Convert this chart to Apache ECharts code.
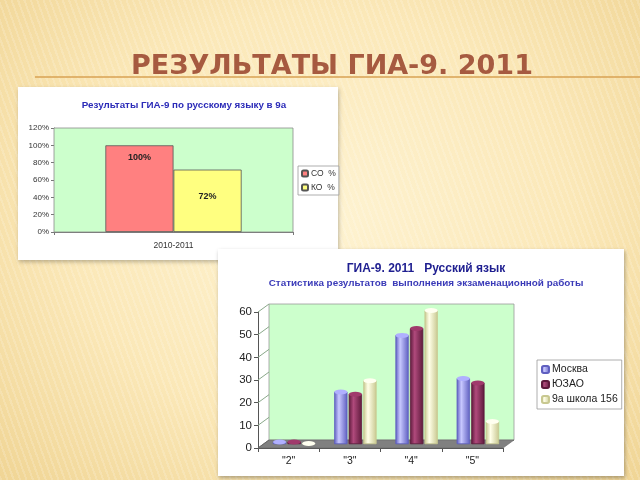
<!DOCTYPE html>
<html>
<head>
<meta charset="utf-8">
<script src="https://cdn.jsdelivr.net/npm/echarts@6/dist/echarts.min.js"></script>
<style>
html, body { margin: 0; padding: 0; }
#main {
    width: 640px; height: 480px;
    background:
        repeating-linear-gradient(70deg, rgba(255,255,255,0.16) 0 2px, rgba(0,0,0,0) 2px 6px),
        radial-gradient(ellipse at 50% 45%, #fef3d2 0%, #fbe8b8 55%, #f0d595 100%);
}
</style>
</head>
<body>
<div id="main"></div>
<script>
// chart 1 - 9a class, results
var yearCats = ['2010-2011'];
var soValues = [100];
var koValues = [72];

// chart 2 - grade distribution
var gradeCats = ['"2"', '"3"', '"4"', '"5"'];
var moscowValues = [1, 23, 48, 29];
var uzaoValues = [1, 22, 51, 27];
var schoolValues = [0.3, 28, 59, 10];

var FONT = 'Liberation Sans, Arial, sans-serif';

// front axis grid of the 3d chart, wall is shifted back by DX, DY
var G2 = { left: 258, top: 312, width: 245, height: 136 };
var DX = 11, DY = -8;

function cyl(dark, light) {
    return new echarts.graphic.LinearGradient(0, 0, 1, 0, [
        { offset: 0, color: dark },
        { offset: 0.35, color: light },
        { offset: 1, color: dark }
    ]);
}

function barSeries(name, data, dark, light) {
    return {
        name: name,
        type: 'bar',
        xAxisIndex: 2, yAxisIndex: 2,
        barWidth: 13, barGap: '12%',
        z: 4,
        itemStyle: { color: cyl(dark, light), borderColor: dark, borderWidth: 0.5 },
        data: data
    };
}

function capSeries(name, data, color, border) {
    return {
        name: name,
        type: 'pictorialBar',
        xAxisIndex: 2, yAxisIndex: 2,
        barWidth: 13, barGap: '12%',
        symbol: 'circle',
        symbolSize: [13, 5],
        symbolPosition: 'end',
        symbolOffset: [0, '-50%'],
        z: 5,
        itemStyle: { color: color, borderColor: border, borderWidth: 0.6 },
        data: data
    };
}

var chart = echarts.init(document.getElementById('main'));

var option = {
    backgroundColor: 'transparent',
    animation: false,
    textStyle: { fontFamily: FONT },
    title: [
        {
            text: 'РЕЗУЛЬТАТЫ ГИА-9. 2011',
            left: 327, top: 48, textAlign: 'center',
            textStyle: { color: '#a65a40', fontSize: 27, fontWeight: 'bold', fontFamily: 'DejaVu Sans, sans-serif' }
        },
        {
            text: 'Результаты ГИА-9 по русскому языку в 9а',
            left: 179, top: 95, textAlign: 'center',
            textStyle: { color: '#2b2bb8', fontSize: 9.8, fontWeight: 'bold', fontFamily: FONT }
        },
        {
            text: 'ГИА-9. 2011   Русский язык',
            left: 421, top: 258, textAlign: 'center',
            textStyle: { color: '#1e1e90', fontSize: 12, fontWeight: 'bold', fontFamily: FONT }
        },
        {
            text: 'Статистика результатов  выполнения экзаменационной работы',
            left: 421, top: 273, textAlign: 'center',
            textStyle: { color: '#3a3ab8', fontSize: 9.9, fontWeight: 'bold', fontFamily: FONT }
        }
    ],
    legend: [
        {
            data: ['СО  %', 'КО  %'],
            orient: 'vertical',
            left: 298, top: 166,
            itemWidth: 6, itemHeight: 6, itemGap: 5,
            padding: [3, 3, 3, 3],
            backgroundColor: '#fff',
            borderColor: '#999', borderWidth: 0.8,
            textStyle: { fontSize: 8.5, color: '#333', padding: [0, 0, 0, -2] }
        },
        {
            data: ['Москва', 'ЮЗАО', '9а школа 156'],
            orient: 'vertical',
            left: 537, top: 360,
            itemWidth: 7, itemHeight: 7, itemGap: 4,
            padding: [4, 4, 4, 4],
            backgroundColor: '#fff',
            borderColor: '#999', borderWidth: 0.8,
            textStyle: { fontSize: 10.5, color: '#222', padding: [0, 0, 0, -2] }
        }
    ],
    grid: [
        // chart 1
        { left: 54, top: 128, width: 239, height: 104, show: true,
          backgroundColor: '#ccffcc', borderColor: '#8a8a8a', borderWidth: 0.8, z: 1 },
        // chart 2 back wall
        { left: G2.left + DX, top: G2.top + DY, width: G2.width, height: G2.height, show: true,
          backgroundColor: '#ccffcc', borderColor: '#999', borderWidth: 0.8, z: 1 },
        // chart 2 bars, half depth
        { left: G2.left + DX / 2, top: G2.top + DY / 2, width: G2.width, height: G2.height, z: 3 },
        // chart 2 front axes
        { left: G2.left, top: G2.top, width: G2.width, height: G2.height, z: 3 }
    ],
    xAxis: [
        { gridIndex: 0, type: 'category', data: yearCats,
          axisLine: { lineStyle: { color: '#777' } },
          axisTick: { show: true, length: 3, lineStyle: { color: '#777' } },
          axisLabel: { color: '#333', fontSize: 8.5, margin: 9 } },
        { gridIndex: 1, type: 'category', data: gradeCats, show: false },
        { gridIndex: 2, type: 'category', data: gradeCats, show: false },
        { gridIndex: 3, type: 'category', data: gradeCats,
          axisLine: { lineStyle: { color: '#555' } },
          axisTick: { show: true, length: 4, inside: false, lineStyle: { color: '#555' } },
          axisLabel: { color: '#222', fontSize: 10.5, margin: 8 } }
    ],
    yAxis: [
        { gridIndex: 0, type: 'value', min: 0, max: 120, interval: 20,
          axisLine: { show: true, lineStyle: { color: '#777' } },
          axisTick: { show: true, length: 3, lineStyle: { color: '#777' } },
          axisLabel: { color: '#333', fontSize: 8, margin: 5, formatter: '{value}%' },
          splitLine: { lineStyle: { color: '#8a9a8a', width: 0.8 } } },
        { gridIndex: 1, type: 'value', min: 0, max: 60, interval: 10,
          axisLine: { show: false }, axisTick: { show: false }, axisLabel: { show: false },
          splitLine: { lineStyle: { color: '#8aa88a', width: 1 } } },
        { gridIndex: 2, type: 'value', min: 0, max: 60, interval: 10, show: false,
          splitLine: { show: false } },
        { gridIndex: 3, type: 'value', min: 0, max: 60, interval: 10,
          axisLine: { show: true, lineStyle: { color: '#555' } },
          axisTick: { show: true, length: 4, lineStyle: { color: '#555' } },
          axisLabel: { color: '#222', fontSize: 11.5, margin: 6 },
          splitLine: { show: false } }
    ],
    series: [
        {
            name: 'СО  %', type: 'bar', xAxisIndex: 0, yAxisIndex: 0,
            barGap: 0, barCategoryGap: '43%', z: 3,
            itemStyle: { color: '#ff8080', borderColor: '#555', borderWidth: 0.8 },
            label: { show: true, position: 'insideTop', distance: 8, fontSize: 9, fontWeight: 'bold',
                     color: '#222', formatter: '{c}%' },
            data: soValues
        },
        {
            name: 'КО  %', type: 'bar', xAxisIndex: 0, yAxisIndex: 0,
            barGap: 0, barCategoryGap: '43%', z: 3,
            itemStyle: { color: '#ffff80', borderColor: '#555', borderWidth: 0.8 },
            label: { show: true, position: 'inside', offset: [0, -4], fontSize: 9, fontWeight: 'bold',
                     color: '#222', formatter: '{c}%' },
            data: koValues
        },
        barSeries('Москва', moscowValues, '#5f5fc0', '#c8c8ff'),
        barSeries('ЮЗАО', uzaoValues, '#5e1a3c', '#b04a7c'),
        barSeries('9а школа 156', schoolValues, '#c8c890', '#ffffe8'),
        capSeries('Москва', moscowValues, '#b0b0ff', '#4a4aa0'),
        capSeries('ЮЗАО', uzaoValues, '#a03a6c', '#4a0f2c'),
        capSeries('9а школа 156', schoolValues, '#fffff0', '#8a8a60')
    ]
};

chart.setOption(option);

// decorations: slide boxes, title rule, floor of the 3d chart, side-wall lines
var graphics = [
    { type: 'line', z: -1, shape: { x1: 35, y1: 77, x2: 640, y2: 77 },
      style: { stroke: '#d9a253', lineWidth: 1.5 } },
    { type: 'rect', z: -1, shape: { x: 18, y: 87, width: 320, height: 173 },
      style: { fill: '#fff', shadowBlur: 4, shadowColor: 'rgba(0,0,0,0.25)', shadowOffsetX: 1, shadowOffsetY: 2 } },
    { type: 'rect', z: -1, shape: { x: 218, y: 249, width: 406, height: 227 },
      style: { fill: '#fff', shadowBlur: 4, shadowColor: 'rgba(0,0,0,0.3)', shadowOffsetX: 1, shadowOffsetY: 2 } },
    { type: 'polygon', z: 2,
      shape: { points: [
          [G2.left, G2.top + G2.height],
          [G2.left + G2.width, G2.top + G2.height],
          [G2.left + G2.width + DX, G2.top + G2.height + DY],
          [G2.left + DX, G2.top + G2.height + DY]
      ] },
      style: { fill: '#808080', stroke: '#666', lineWidth: 0.6 } }
];
for (var v = 0; v <= 60; v += 10) {
    var p = chart.convertToPixel({ gridIndex: 3 }, [0, v]);
    graphics.push({ type: 'line', z: 2,
        shape: { x1: G2.left, y1: p[1], x2: G2.left + DX, y2: p[1] + DY },
        style: { stroke: v === 0 ? '#666' : '#8aa88a', lineWidth: 1 } });
}
chart.setOption({ graphic: graphics });

window.addEventListener('resize', function () {
    chart.resize();
});
</script>
</body>
</html>
